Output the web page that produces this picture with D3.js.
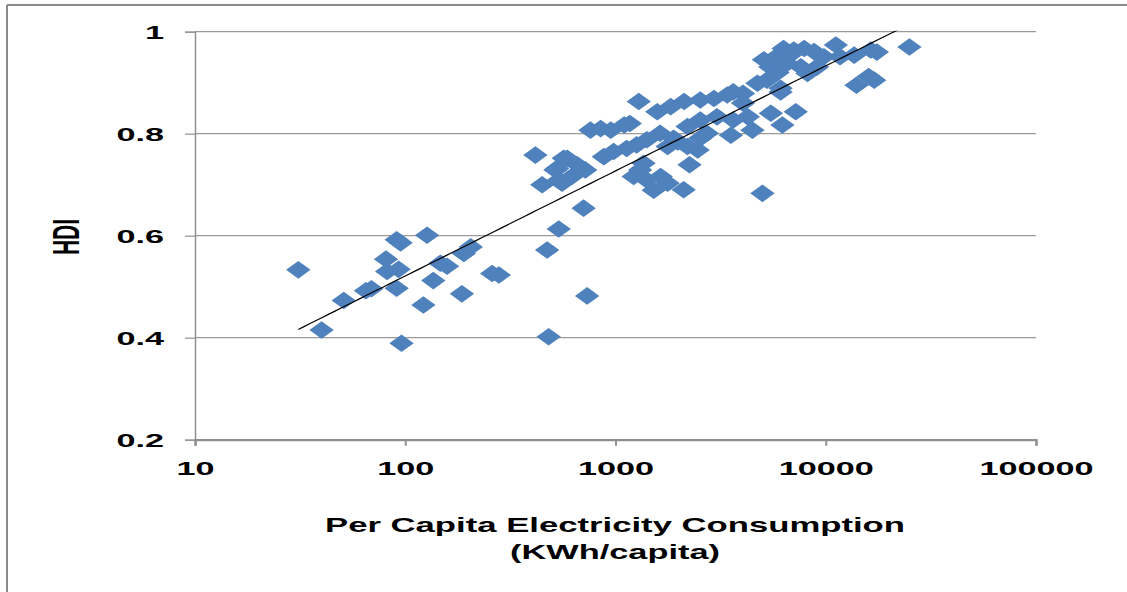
<!DOCTYPE html>
<html>
<head>
<meta charset="utf-8">
<script src="https://cdn.jsdelivr.net/npm/d3@7"></script>
<style>
  html, body { margin: 0; padding: 0; background: #ffffff; }
  svg { display: block; }
</style>
</head>
<body>
<svg id="chart" width="1127" height="592"></svg>
<script>
// ---- data (per capita electricity consumption kWh, HDI) ----
const consumption = [
  31, 40, 51, 65, 69, 81, 82, 91, 95, 93, 91, 96, 127, 122, 136, 147, 158, 190, 205, 186, 259, 279,
  416, 448, 473, 481, 518, 528, 537, 538, 557, 567, 589, 620, 658, 705, 718, 733, 760, 850, 880, 950,
  980, 1100, 1130, 1170, 1260, 1290, 1220, 1310, 1360, 1410, 1410, 1520, 1580, 1630, 1640, 1770, 1770,
  1830, 1890, 1980, 2110, 2120, 2200, 2200, 2250, 2460, 2530, 2530, 2530, 2720, 2940, 3040, 3400, 3540,
  3630, 3630, 4040, 4040, 4260, 4480, 4730, 5000, 5250, 5480, 6100, 6220, 7200,
  5080, 5450, 5680, 6300, 6560, 7050, 7620, 7900, 8190, 8800, 9100, 9800, 11170, 11700, 13650, 14000,
  16000, 17000, 16370, 17500, 25000, 6100, 5900, 6800
];
const hdi = [
  0.533, 0.415, 0.473, 0.492, 0.496, 0.554, 0.530, 0.592, 0.586, 0.534, 0.497, 0.389, 0.601, 0.464, 0.512, 0.546, 0.540, 0.565, 0.578, 0.486, 0.526, 0.523,
  0.758, 0.700, 0.572, 0.402, 0.729, 0.732, 0.613, 0.709, 0.703, 0.752, 0.752, 0.716, 0.739, 0.654, 0.729, 0.482, 0.807, 0.810, 0.755, 0.807,
  0.765, 0.817, 0.771, 0.820, 0.778, 0.863, 0.716, 0.729, 0.742, 0.709, 0.788, 0.689, 0.843, 0.801, 0.716, 0.703, 0.775,
  0.853, 0.791, 0.784, 0.690, 0.863, 0.814, 0.775, 0.739, 0.768, 0.866, 0.827, 0.791, 0.801, 0.869, 0.833, 0.876, 0.797,
  0.882, 0.827, 0.879, 0.860, 0.833, 0.807, 0.899, 0.683, 0.905, 0.840, 0.889, 0.817, 0.843,
  0.945, 0.931, 0.948, 0.967, 0.938, 0.964, 0.931, 0.967, 0.918, 0.961, 0.931, 0.951, 0.974, 0.951, 0.954, 0.895,
  0.912, 0.905, 0.964, 0.960, 0.970, 0.882, 0.920, 0.955
];
// logarithmic trendline: HDI = trendA + trendB * log10(kWh), drawn over the data range
const trendA = 0.109;
const trendB = 0.206;
const trendRange = [31, 25000];

const xTicks = [10, 100, 1000, 10000, 100000];
const yTicks = [0.2, 0.4, 0.6, 0.8, 1];
const xTitle = ["Per Capita Electricity Consumption", "(KWh/capita)"];
const yTitle = "HDI";

// ---- layout ----
const svg = d3.select("#chart");
const pLeft = 195, pRight = 1036, pTop = 31.7, pBottom = 439.7;
const SX = 1.8; // horizontal stretch of the original text
const FONT = "'Liberation Sans', Arial, sans-serif";

const x = d3.scaleLog().domain([10, 100000]).range([pLeft, pRight]);
const y = d3.scaleLinear().domain([0.2, 1]).range([pBottom, pTop]);

svg.append("rect").attr("width", 1127).attr("height", 592).attr("fill", "#fff");

// outer frame (left and top edges visible)
svg.append("line").attr("x1", 7).attr("x2", 7).attr("y1", 5).attr("y2", 592)
  .attr("stroke", "#8a8a8a").attr("stroke-width", 2);
svg.append("line").attr("x1", 7).attr("x2", 1127).attr("y1", 5).attr("y2", 5)
  .attr("stroke", "#8a8a8a").attr("stroke-width", 2);

// horizontal gridlines
svg.append("g").selectAll("line").data(yTicks.filter(t => t > 0.2)).join("line")
  .attr("x1", pLeft).attr("x2", pRight)
  .attr("y1", d => y(d)).attr("y2", d => y(d))
  .attr("stroke", "#9a9a9a").attr("stroke-width", 1.3);

// y axis
const yAxis = svg.append("g").attr("transform", `translate(${pLeft},0)`)
  .call(d3.axisLeft(y).tickValues(yTicks).tickSize(10).tickPadding(0).tickFormat(d3.format("")));
yAxis.select(".domain").attr("stroke", "#8f8f8f").attr("stroke-width", 1.5);
yAxis.selectAll(".tick line").attr("stroke", "#9a9a9a").attr("stroke-width", 1.3);
yAxis.selectAll(".tick text")
  .attr("font-family", FONT).attr("font-weight", "bold").attr("font-size", 19)
  .attr("fill", "#000").attr("text-anchor", "end")
  .attr("x", -31 / SX).attr("dy", "0.36em")
  .attr("transform", `scale(${SX},1)`);

// x axis
const xAxis = svg.append("g").attr("transform", `translate(0,${pBottom})`)
  .call(d3.axisBottom(x).tickValues(xTicks).tickSize(6).tickPadding(0).tickFormat(d3.format("d")));
xAxis.select(".domain").attr("stroke", "#8f8f8f").attr("stroke-width", 2.2);
xAxis.selectAll(".tick line").attr("stroke", "#8f8f8f").attr("stroke-width", 2);
xAxis.selectAll(".tick text")
  .attr("font-family", FONT).attr("font-weight", "bold").attr("font-size", 19)
  .attr("fill", "#000").attr("text-anchor", "middle")
  .attr("x", 0).attr("y", 35).attr("dy", 0)
  .attr("transform", `scale(${SX},1)`);

// axis titles
svg.append("text").attr("x", 615).attr("y", 532)
  .attr("text-anchor", "middle").attr("font-family", FONT).attr("font-weight", "bold")
  .attr("font-size", 21).attr("textLength", 580).attr("lengthAdjust", "spacingAndGlyphs")
  .text(xTitle[0]);
svg.append("text").attr("x", 615).attr("y", 559)
  .attr("text-anchor", "middle").attr("font-family", FONT).attr("font-weight", "bold")
  .attr("font-size", 21).attr("textLength", 210).attr("lengthAdjust", "spacingAndGlyphs")
  .text(xTitle[1]);
svg.append("text")
  .attr("text-anchor", "middle").attr("font-family", FONT).attr("font-weight", "bold")
  .attr("font-size", 21)
  .attr("transform", `translate(79,237) scale(${SX},1) rotate(-90)`)
  .text(yTitle);

// clip to plot area
svg.append("clipPath").attr("id", "plotclip").append("rect")
  .attr("x", pLeft).attr("y", pTop - 1).attr("width", pRight - pLeft).attr("height", pBottom - pTop + 1);

// points
const pts = consumption.map((v, i) => ({ v, h: hdi[i] }));
const diamond = "M0,-8.8L12.2,0L0,8.8L-12.2,0Z";
svg.append("g").selectAll("path").data(pts).join("path")
  .attr("d", diamond)
  .attr("transform", d => `translate(${x(d.v)},${y(d.h)})`)
  .attr("fill", "#4f81bd");

// trendline
const trendPts = d3.range(0, 101).map(i => {
  const lv = Math.log10(trendRange[0]) + i / 100 * (Math.log10(trendRange[1]) - Math.log10(trendRange[0]));
  const v = Math.pow(10, lv);
  return [v, trendA + trendB * lv];
});
svg.append("path")
  .attr("clip-path", "url(#plotclip)")
  .attr("d", d3.line().x(d => x(d[0])).y(d => y(d[1]))(trendPts))
  .attr("fill", "none").attr("stroke", "#000").attr("stroke-width", 1.2);
</script>
</body>
</html>
